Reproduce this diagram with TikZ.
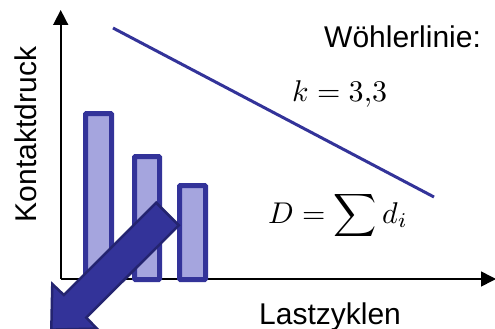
\documentclass[tikz,border=0pt]{standalone}
\usepackage{fontspec}
\usepackage{graphicx}
\setmainfont{Liberation Sans}
\usetikzlibrary{arrows.meta}
\definecolor{barblue}{RGB}{51,51,153}
\definecolor{barfill}{RGB}{165,165,222}
\definecolor{arrowedge}{RGB}{36,36,112}
\begin{document}
\begin{tikzpicture}[x=1pt,y=-1pt,
  axis/.style={line width=1.6pt,-{Triangle[length=15pt,width=15pt]}},
  bar/.style={draw=barblue,fill=barfill,line width=5pt,rounded corners=1pt},
  lbl/.style={inner sep=0pt,font=\fontsize{30}{36}\selectfont},
  mlbl/.style={inner sep=0pt},
  wline/.style={draw=barblue,line width=3pt},
  bigarrow/.style={fill=barblue,draw=arrowedge,line width=2.5pt,line join=miter}]
\useasboundingbox (0,0) rectangle (495,329);
\begin{scope}
\clip (0,0) rectangle (495,329);
% axes
\coordinate (O) at (60.7,279);
\coordinate (ytip) at (60.7,10);
\coordinate (xtip) at (496,279);
\draw[axis] (O) -- (ytip);
\draw[axis] (O) -- (xtip);
% Woehler line
\coordinate (w1) at (113,28);
\coordinate (w2) at (434,197);
\draw[wline] (w1) -- (w2);
% bars
\draw[bar] (85.5,113.5) rectangle (111.5,279.5);
\draw[bar] (134.5,156.5) rectangle (159.5,279.5);
\draw[bar] (179.5,185.5) rectangle (205.5,279.5);
% big arrow
\draw[bigarrow] (156.2,202.7) -- (178.8,225.3) -- (86.3,317.6) -- (96.9,328.6)
  -- (51.3,329.6) -- (52.3,284) -- (63.9,295) -- cycle;
\end{scope}
% labels
\node[lbl,rotate=90,anchor=base] (ylab) at (36,134.5) {Kontaktdruck};
\node[lbl,anchor=base west] (xlab) at (259,324) {Lastzyklen};
\node[lbl,anchor=base west] (wl) at (324,48) {Wöhlerlinie:};
\node[mlbl,anchor=base west] (k) at (292,101) {\scalebox{3.0}{$k = 3{,}3$}};
\node[mlbl,anchor=base west] (D) at (268,223) {\scalebox{3.0}{$\displaystyle D = \sum d_i$}};
\end{tikzpicture}
\end{document}
